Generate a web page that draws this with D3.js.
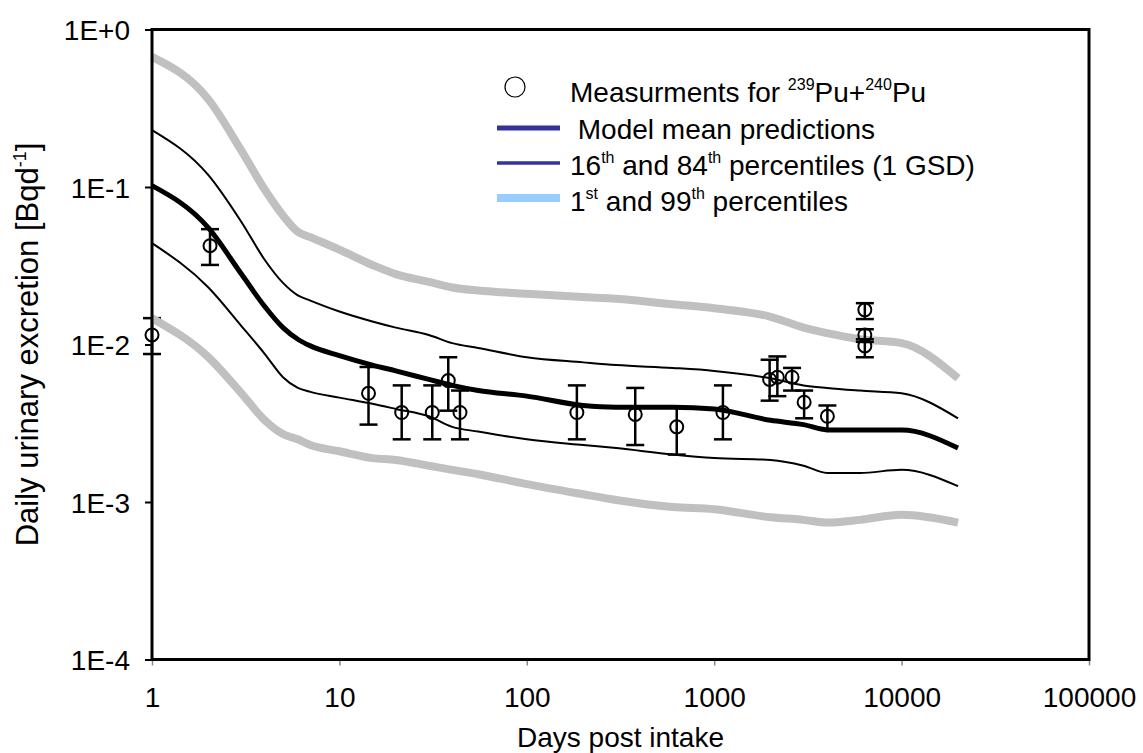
<!DOCTYPE html>
<html>
<head>
<meta charset="utf-8">
<script src="https://cdn.jsdelivr.net/npm/d3@7/dist/d3.min.js"></script>
<style>
  html, body { margin: 0; padding: 0; background: #fff; }
  svg { display: block; font-family: "Liberation Sans", Arial, sans-serif; }
</style>
</head>
<body>
<svg id="chart" width="1143" height="753"></svg>
<script>
// Days after intake at which the model curves are tabulated
const days = [1, 2, 3, 4, 5, 6, 7, 10, 15, 20, 30, 40, 55, 100, 200, 300, 600, 1000, 2000, 3000, 4000, 6000, 10000, 20000];

// Model predictions of daily urinary excretion (Bq/d)
const meanPred = [0.102, 0.055, 0.028, 0.0174, 0.0128, 0.0108, 0.0098, 0.0085, 0.0074, 0.0068, 0.0060, 0.0055, 0.0051, 0.0047, 0.0041, 0.0040, 0.0040, 0.0039, 0.0033, 0.0031, 0.00287, 0.00286, 0.00286, 0.0022];
const p84 = [0.23, 0.119, 0.06, 0.0344, 0.0246, 0.0205, 0.0190, 0.0162, 0.0140, 0.0128, 0.0115, 0.0102, 0.0095, 0.0083, 0.0077, 0.0074, 0.0071, 0.0068, 0.0061, 0.0055, 0.0053, 0.0051, 0.0049, 0.0034];
const p16 = [0.044, 0.023, 0.0131, 0.0087, 0.0062, 0.0053, 0.0050, 0.0046, 0.0042, 0.0039, 0.0035, 0.0030, 0.0028, 0.0025, 0.0023, 0.0022, 0.0020, 0.0019, 0.00185, 0.0017, 0.00153, 0.00153, 0.0016, 0.00126];
const p99 = [0.67, 0.36, 0.17, 0.096, 0.066, 0.052, 0.048, 0.040, 0.032, 0.028, 0.025, 0.023, 0.022, 0.021, 0.020, 0.0195, 0.018, 0.017, 0.015, 0.0128, 0.0118, 0.0108, 0.0102, 0.0061];
const p1 = [0.0147, 0.0083, 0.0049, 0.0033, 0.0027, 0.0025, 0.0023, 0.0021, 0.0019, 0.00185, 0.0017, 0.0016, 0.0015, 0.0013, 0.00112, 0.00103, 0.00093, 0.00090, 0.00080, 0.00077, 0.00074, 0.00077, 0.00083, 0.00074];

// Bioassay measurements for 239Pu+240Pu with uncertainty range
const measDays = [1, 2.04, 14.3, 21.5, 31.3, 38.1, 44, 185, 379, 631, 1113, 1976, 2173, 2603, 3019, 4018, 6365, 6365, 6365];
const measValue = [0.0115, 0.0424, 0.0049, 0.0037, 0.0037, 0.0059, 0.0037, 0.0037, 0.0036, 0.0030, 0.0037, 0.0060, 0.0062, 0.0062, 0.0043, 0.0035, 0.0166, 0.0115, 0.0098];
const measLow = [0.0087, 0.032, 0.0031, 0.0025, 0.0025, 0.0038, 0.0025, 0.0025, 0.0023, 0.0020, 0.0025, 0.0044, 0.0047, 0.0051, 0.0034, 0.0029, 0.0145, 0.0104, 0.0083];
const measHigh = [0.0147, 0.054, 0.0072, 0.0055, 0.0055, 0.0083, 0.0051, 0.0055, 0.0053, 0.0040, 0.0055, 0.0080, 0.0084, 0.0071, 0.0051, 0.0041, 0.0183, 0.0125, 0.0108];

// Axis ticks
const xTicks = [1, 10, 100, 1000, 10000, 100000];
const yTicks = [1e-4, 1e-3, 1e-2, 1e-1, 1];

const svg = d3.select("#chart");
const plotLeft = 152, plotRight = 1089, plotTop = 29.5, plotBottom = 659.5;

const x = d3.scaleLog().domain([1, 100000]).range([plotLeft, plotRight]);
const y = d3.scaleLog().domain([1e-4, 1]).range([plotBottom, plotTop]);

const line = d3.line()
  .x(d => x(d[0]))
  .y(d => y(d[1]))
  .curve(d3.curveMonotoneX);

const series = (vals) => days.map((d, i) => [d, vals[i]]);

const drawBand = (g, vals) => g.append("path").attr("d", line(series(vals)))
  .attr("fill", "none").attr("stroke", "#c0c0c0").attr("stroke-width", 8).attr("stroke-linejoin", "round");

// 99th percentile envelope, 16th/84th percentiles and mean prediction
const curves = svg.append("g").attr("fill", "none").attr("stroke-linejoin", "round");
drawBand(curves, p99);
[p84, p16].forEach(v => curves.append("path").attr("d", line(series(v)))
  .attr("stroke", "#000").attr("stroke-width", 2));
curves.append("path").attr("d", line(series(meanPred)))
  .attr("stroke", "#000").attr("stroke-width", 5);

// Measurements: error bars and open circles
const meas = svg.append("g").attr("stroke", "#000").attr("fill", "none");
measDays.forEach((d, i) => {
  const cx = x(d);
  const g = meas.append("g").attr("stroke-width", 2.5);
  g.append("line").attr("x1", cx).attr("x2", cx).attr("y1", y(measLow[i])).attr("y2", y(measHigh[i]));
  g.append("line").attr("x1", cx - 9).attr("x2", cx + 9).attr("y1", y(measLow[i])).attr("y2", y(measLow[i]));
  g.append("line").attr("x1", cx - 9).attr("x2", cx + 9).attr("y1", y(measHigh[i])).attr("y2", y(measHigh[i]));
  meas.append("circle").attr("cx", cx).attr("cy", y(measValue[i])).attr("r", 6.5).attr("stroke-width", 2);
});

// 1st percentile envelope
drawBand(svg.append("g"), p1);

// Axes
const fontSize = 28;
const xAxis = svg.append("g").attr("transform", `translate(0,${plotBottom})`)
  .call(d3.axisBottom(x).tickValues(xTicks).tickFormat(d3.format("d")).tickSizeOuter(0).tickSize(6));
xAxis.select(".domain").remove();
xAxis.selectAll(".tick line").attr("stroke", "#888").attr("stroke-width", 1.5);
xAxis.selectAll(".tick text").attr("y", 47.5).attr("dy", 0)
  .attr("font-size", fontSize).attr("font-family", "Liberation Sans, Arial, sans-serif").attr("fill", "#000");

const yAxis = svg.append("g").attr("transform", `translate(${plotLeft},0)`)
  .call(d3.axisLeft(y).tickValues(yTicks)
    .tickFormat(d => { const e = Math.round(Math.log10(d)); return "1E" + (e >= 0 ? "+" : "") + e; })
    .tickSizeOuter(0).tickSize(7).tickPadding(15));
yAxis.select(".domain").remove();
yAxis.selectAll(".tick line").attr("stroke", "#000").attr("stroke-width", 2);
yAxis.selectAll(".tick text").attr("dy", "0.36em")
  .attr("font-size", fontSize).attr("font-family", "Liberation Sans, Arial, sans-serif").attr("fill", "#000");

// Plot frame
svg.append("rect").attr("x", plotLeft).attr("y", plotTop)
  .attr("width", plotRight - plotLeft).attr("height", plotBottom - plotTop)
  .attr("fill", "none").attr("stroke", "#000").attr("stroke-width", 3);

// Axis titles
svg.append("text").attr("x", (plotLeft + plotRight) / 2).attr("y", 747)
  .attr("text-anchor", "middle").attr("font-size", fontSize).text("Days post intake");

const yt = svg.append("text")
  .attr("transform", `translate(38,${(plotTop + plotBottom) / 2}) rotate(-90)`)
  .attr("text-anchor", "middle").attr("font-size", 31);
yt.append("tspan").text("Daily urinary excretion [Bqd");
yt.append("tspan").attr("dy", -12).attr("font-size", 18).text("-1");
yt.append("tspan").attr("dy", 12).text("]");

// Legend: text runs with raised superscripts
const lg = svg.append("g").attr("font-size", fontSize);
const richText = (t, parts) => {
  let raised = false;
  parts.forEach(([s, isSup]) => {
    const dy = isSup === raised ? 0 : (isSup ? -12 : 12);
    t.append("tspan").attr("dy", dy).attr("font-size", isSup ? 16 : fontSize).text(s);
    raised = isSup;
  });
};

lg.append("circle").attr("cx", 515).attr("cy", 87).attr("r", 10)
  .attr("fill", "none").attr("stroke", "#000").attr("stroke-width", 1.2);
richText(lg.append("text").attr("x", 570).attr("y", 102),
  [["Measurments for ", false], ["239", true], ["Pu+", false], ["240", true], ["Pu", false]]);

lg.append("line").attr("x1", 497).attr("x2", 560).attr("y1", 128).attr("y2", 128)
  .attr("stroke", "#333399").attr("stroke-width", 5);
lg.append("text").attr("x", 570).attr("y", 139).style("white-space", "pre").text(" Model mean predictions");

lg.append("line").attr("x1", 497).attr("x2", 560).attr("y1", 163).attr("y2", 163)
  .attr("stroke", "#333399").attr("stroke-width", 3.5);
richText(lg.append("text").attr("x", 570).attr("y", 175),
  [["16", false], ["th", true], [" and 84", false], ["th", true], [" percentiles (1 GSD)", false]]);

lg.append("line").attr("x1", 497).attr("x2", 560).attr("y1", 198).attr("y2", 198)
  .attr("stroke", "#99ccff").attr("stroke-width", 8);
richText(lg.append("text").attr("x", 570).attr("y", 211),
  [["1", false], ["st", true], [" and 99", false], ["th", true], [" percentiles", false]]);
</script>
</body>
</html>
